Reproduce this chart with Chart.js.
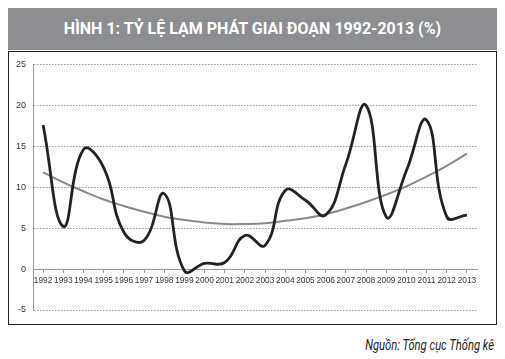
<!DOCTYPE html>
<html>
<head>
<meta charset="utf-8">
<script src="https://cdn.jsdelivr.net/npm/chart.js@4"></script>
<style>
  html, body { margin: 0; padding: 0; background: #fff; }
  body { width: 505px; height: 359px; position: relative; overflow: hidden; }
  #title {
    position: absolute; left: 8px; top: 8px; width: 489px; height: 42px;
    background: #8d8e92; color: #fff; text-align: center;
    font: bold 16px "Roboto", sans-serif; line-height: 42px;
  }
  #box {
    position: absolute; left: 8px; top: 51px; width: 487px; height: 272px;
    border: 1px solid #222;
  }
  #source {
    position: absolute; right: 11px; top: 337px; white-space: nowrap;
    font: italic 14px "Roboto", sans-serif; color: #222;
    transform: scaleX(0.8); transform-origin: right center;
  }
</style>
</head>
<body>
<div id="title">HÌNH 1: TỶ LỆ LẠM PHÁT GIAI ĐOẠN 1992-2013 (%)</div>
<div id="box"><canvas id="chart" width="487" height="272"></canvas></div>
<div id="source">Nguồn: Tổng cục Thống kê</div>
<script>
// Số liệu
const years = ['1992', '1993', '1994', '1995', '1996', '1997', '1998', '1999', '2000', '2001', '2002',
               '2003', '2004', '2005', '2006', '2007', '2008', '2009', '2010', '2011', '2012', '2013'];
const inflation = [17.6, 5.2, 14.6, 12.4, 4.5, 3.5, 9.2, -0.2, 0.7, 0.8, 4.1,
                   2.9, 9.6, 8.4, 6.6, 12.8, 20.0, 6.4, 12.0, 18.2, 6.4, 6.6];
const trend = [11.8, 10.6, 9.5, 8.5, 7.7, 7.0, 6.4, 6.0, 5.7, 5.5, 5.5,
               5.6, 5.9, 6.2, 6.7, 7.4, 8.2, 9.1, 10.1, 11.3, 12.6, 14.1];
const yTicks = [-5, 0, 5, 10, 15, 20, 25];

document.addEventListener('DOMContentLoaded', function() {
    const ctx = document.getElementById('chart');
    new Chart(ctx.getContext('2d'), {
        type: 'line',
        data: {
            labels: years,
            datasets: [
                {
                    label: 'Lạm phát',
                    data: inflation,
                    borderColor: '#222222',
                    borderWidth: 2.8,
                    pointRadius: 0,
                    tension: 0.45,
                    fill: false
                },
                {
                    label: 'Xu hướng',
                    data: trend,
                    borderColor: '#888888',
                    borderWidth: 2,
                    pointRadius: 0,
                    tension: 0.4,
                    fill: false
                }
            ]
        },
        options: {
            responsive: false,
            animation: false,
            layout: { padding: { left: 0, right: 19, top: 9, bottom: 14 } },
            plugins: {
                legend: { display: false },
                tooltip: { enabled: false }
            },
            scales: {
                x: {
                    position: { y: 0 },
                    offset: true,
                    grid: { drawOnChartArea: false, drawTicks: true, tickLength: 3, color: '#999' },
                    border: { color: '#999', width: 1 },
                    ticks: {
                        autoSkip: false, maxRotation: 0, padding: 4,
                        color: '#333', font: { family: 'Liberation Sans', size: 8.3 }
                    }
                },
                y: {
                    min: -5,
                    max: 25,
                    afterFit: function(scale) { scale.width = 24; },
                    afterBuildTicks: function(scale) {
                        scale.ticks = yTicks.map(v => ({ value: v }));
                    },
                    grid: { drawTicks: false, color: '#999', lineWidth: 1 },
                    border: { display: true, color: '#999', dash: [1.5, 1.5] },
                    ticks: {
                        padding: 7,
                        color: '#333', font: { family: 'Liberation Sans', size: 9 }
                    }
                }
            }
        }
    });
});
</script>
</body>
</html>
